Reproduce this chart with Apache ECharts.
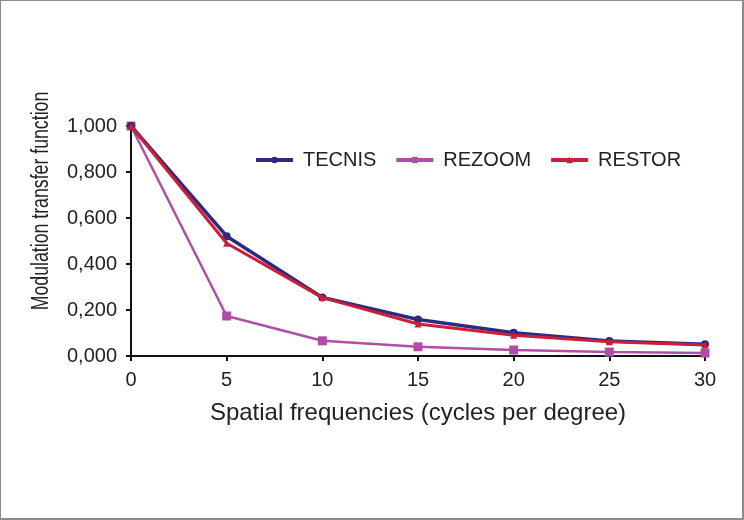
<!DOCTYPE html>
<html>
<head>
<meta charset="utf-8">
<script src="https://cdn.jsdelivr.net/npm/echarts@6/dist/echarts.min.js"></script>
<style>
html,body{margin:0;padding:0;background:#fff;}
#chart{width:744px;height:520px;box-sizing:border-box;border:1px solid #8c8c8c;border-right-width:2px;border-bottom-width:2px;}
</style>
</head>
<body>
<div id="chart"></div>
<script>
// spatial frequency (cycles per degree)
var freqs = [0, 5, 10, 15, 20, 25, 30];
var tecnis = [1.000, 0.521, 0.254, 0.159, 0.101, 0.065, 0.051];
var rezoom = [1.000, 0.174, 0.066, 0.040, 0.026, 0.017, 0.013];
var restor = [1.000, 0.490, 0.254, 0.139, 0.090, 0.062, 0.048];

function pairs(ys){
    return freqs.map(function(x, i){ return [x, ys[i]]; });
}

var chart = echarts.init(document.getElementById('chart'));
var font = 'Liberation Sans, Arial, sans-serif';
var option = {
    animation:false,
    grid:{ left:130, right:37, top:125, bottom:162 },
    textStyle:{ fontFamily:font },
    legend:{
        top:144,
        left:248,
        itemWidth:37,
        itemHeight:8,
        itemGap:18,
        lineStyle:{ width:4 },
        textStyle:{ fontSize:20, color:'#222', fontFamily:font, padding:[0,0,0,5] },
        data:['TECNIS','REZOOM','RESTOR']
    },
    graphic:[{
        // y axis title, narrower lettering like the original
        type:'text',
        x:41, y:200,
        rotation:Math.PI/2,
        scaleX:0.77,
        style:{
            text:'Modulation transfer function',
            font:'23px "Liberation Sans", Arial, sans-serif',
            fill:'#222',
            align:'center',
            verticalAlign:'middle'
        }
    }],
    xAxis:{
        type:'value',
        min:0, max:30, interval:5,
        name:'Spatial frequencies (cycles per degree)',
        nameLocation:'middle',
        nameGap:45,
        nameTextStyle:{ fontSize:24, color:'#222', fontFamily:font },
        axisLine:{ lineStyle:{ color:'#111', width:2 } },
        axisTick:{ show:true, length:5, lineStyle:{ color:'#111', width:2 } },
        axisLabel:{ fontSize:20, color:'#222', margin:14, fontFamily:font },
        splitLine:{ show:false }
    },
    yAxis:{
        type:'value',
        min:0, max:1, interval:0.2,
        axisLine:{ show:true, lineStyle:{ color:'#111', width:2 } },
        axisTick:{ show:true, length:5, lineStyle:{ color:'#111', width:2 } },
        axisLabel:{
            fontSize:20, color:'#222', margin:14, fontFamily:font,
            formatter:function(v){ return v.toFixed(3).replace('.', ','); }
        },
        splitLine:{ show:false }
    },
    series:[
        {
            name:'TECNIS', type:'line', data:pairs(tecnis),
            symbol:'circle', symbolSize:8,
            lineStyle:{ width:3.5, color:'#2e2a7e' },
            itemStyle:{ color:'#2e2a7e' },
            z:3
        },
        {
            name:'REZOOM', type:'line', data:pairs(rezoom),
            symbol:'rect', symbolSize:9,
            lineStyle:{ width:2.5, color:'#b04ea6' },
            itemStyle:{ color:'#b04ea6' },
            z:2
        },
        {
            name:'RESTOR', type:'line', data:pairs(restor),
            symbol:'triangle', symbolSize:7,
            lineStyle:{ width:3, color:'#cc1e3c' },
            itemStyle:{ color:'#cc1e3c' },
            z:4
        }
    ]
};
chart.setOption(option);
</script>
</body>
</html>
